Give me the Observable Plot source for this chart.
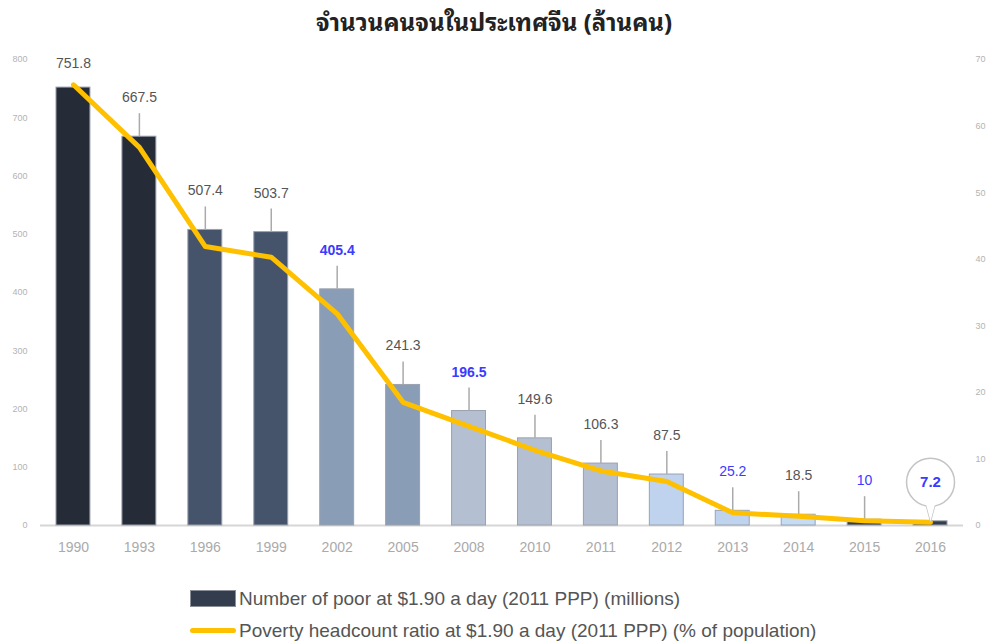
<!DOCTYPE html>
<html><head><meta charset="utf-8">
<script src="https://cdn.jsdelivr.net/npm/d3@7"></script>
<script src="https://cdn.jsdelivr.net/npm/@observablehq/plot@0.6"></script>
<style>
body{margin:0;background:#fff;font-family:"Liberation Sans",Arial,sans-serif;}
#wrap{position:relative;width:988px;height:642px;overflow:hidden;}
#title{position:absolute;left:0;top:0;width:988px;height:40px;line-height:40px;text-align:center;font-weight:bold;font-size:24px;color:#222;font-family:"Noto Sans Thai Looped","Noto Sans Thai","Noto Sans","DejaVu Sans",sans-serif;}
#chart{position:absolute;left:0;top:40px;}
.leg{position:absolute;left:190px;height:22px;line-height:22px;font-size:19px;color:#555;white-space:nowrap;}
.sw{display:inline-block;vertical-align:middle;width:46px;margin-right:3px;}
</style></head>
<body>
<div id="wrap">
  <div id="title">จำนวนคนจนในประเทศจีน (ล้านคน)</div>
  <div id="chart"></div>
  <div class="leg" style="top:588px"><span class="sw" style="height:17px;background:#333d4d;border:1px solid #8a8f98;box-sizing:border-box;position:relative;top:-1px"></span>Number of poor at $1.90 a day (2011 PPP) (millions)</div>
  <div class="leg" style="top:620px"><span class="sw" style="height:5px;background:#ffc000;border-radius:3px;position:relative;top:-1px"></span>Poverty headcount ratio at $1.90 a day (2011 PPP) (% of population)</div>
</div>
<script>
// ---- data ----
const years = ["1990","1993","1996","1999","2002","2005","2008","2010","2011","2012","2013","2014","2015","2016"];
const poor  = [751.8, 667.5, 507.4, 503.7, 405.4, 241.3, 196.5, 149.6, 106.3, 87.5, 25.2, 18.5, 10, 7.2];
const ratio = [66.2, 56.8, 41.9, 40.3, 31.8, 18.5, 14.9, 11.3, 8.2, 6.6, 1.9, 1.4, 0.7, 0.5];
const leftTicks  = [0, 100, 200, 300, 400, 500, 600, 700, 800];
const rightTicks = [0, 10, 20, 30, 40, 50, 60, 70];
// label emphasis: "" normal grey, "blue", "bold" (blue bold)
const emphasis = ["", "", "", "", "bold", "", "bold", "", "", "", "blue", "", "blue", "bold"];

// ---- styles ----
const barFill = ["#252c38","#252c38","#46546b","#46546b","#8a9db6","#8a9db6","#b4bfd1","#b4bfd1","#b4bfd1","#bfd3ef","#bfd3ef","#c6dcf5","#353d4a","#353d4a"];
const leftMax = 800, rightMax = 70;
const toLeft = v => v * leftMax / rightMax;

const rows = years.map((year, i) => ({year, poor: poor[i], ratio: ratio[i], fill: barFill[i], emph: emphasis[i]}));
const labelRows = rows.filter(d => d.year !== "1990" && d.year !== "2016");
const first = rows.filter(d => d.year === "1990");
const last = rows.filter(d => d.year === "2016");
const blue = "#3b3bff";

const chart = Plot.plot({
  width: 988,
  height: 530,
  marginLeft: 40,
  marginRight: 25,
  marginTop: 19,
  marginBottom: 45,
  style: {fontFamily: "'Liberation Sans', Arial, sans-serif", background: "#fff"},
  x: {type: "band", domain: years, paddingInner: 0.485, paddingOuter: 0.2425, round: false, axis: null, label: null},
  y: {domain: [0, leftMax], axis: null, label: null},
  color: {type: "identity"},
  marks: [
    Plot.axisY(leftTicks, {anchor: "left", label: null, tickSize: 0, tickPadding: 13, fontSize: 9, color: "#b3b3b3"}),
    Plot.axisY(rightTicks.map(toLeft), {anchor: "right", label: null, tickSize: 0, tickPadding: 12, fontSize: 9, color: "#b3b3b3", tickFormat: d => String(Math.round(d * rightMax / leftMax))}),
    Plot.axisX({label: null, tickSize: 0, tickPadding: 17, fontSize: 14, color: "#aaaaaa"}),
    Plot.ruleY([0], {stroke: "#d6d6d6", strokeWidth: 2}),
    Plot.barY(rows, {x: "year", y: "poor", fill: "fill", stroke: "#9aa2ae", strokeWidth: 1}),
    Plot.ruleX(labelRows, {x: "year", y1: "poor", y2: "poor", insetBottom: 23, stroke: "#aaaaaa", strokeWidth: 1.5}),
    Plot.line(rows, {x: "year", y: d => toLeft(d.ratio), stroke: "#ffc000", strokeWidth: 5, strokeLinejoin: "round", strokeLinecap: "round"}),
    // value labels
    Plot.text(first, {x: "year", y: "poor", text: d => String(d.poor), dy: -24, fontSize: 14, fill: "#555"}),
    Plot.text(labelRows.filter(d => d.emph === ""), {x: "year", y: "poor", text: d => String(d.poor), dy: -39, fontSize: 14, fill: "#555"}),
    Plot.text(labelRows.filter(d => d.emph === "blue"), {x: "year", y: "poor", text: d => String(d.poor), dy: -39, fontSize: 14, fill: blue}),
    Plot.text(labelRows.filter(d => d.emph === "bold"), {x: "year", y: "poor", text: d => String(d.poor), dy: -39, fontSize: 14, fontWeight: "bold", fill: blue}),
    // callout bubble for the last value
    Plot.vector(last, {x: "year", y: "poor", length: 19, rotate: 180, anchor: "end", shape: "spike", r: 5, fill: "white", stroke: "#c4c4c4", strokeWidth: 1.5}),
    Plot.dot(last, {x: "year", y: "poor", r: 24, dy: -39, fill: "white", stroke: "#c4c4c4", strokeWidth: 1.5}),
    Plot.vector(last, {x: "year", y: "poor", length: 19, rotate: 180, anchor: "end", shape: "spike", r: 5, fill: "white", stroke: "none"}),
    Plot.text(last, {x: "year", y: "poor", text: d => String(d.poor), dy: -39, fontSize: 15, fontWeight: "bold", fill: blue})
  ]
});
document.getElementById("chart").appendChild(chart);
</script>
</body></html>
